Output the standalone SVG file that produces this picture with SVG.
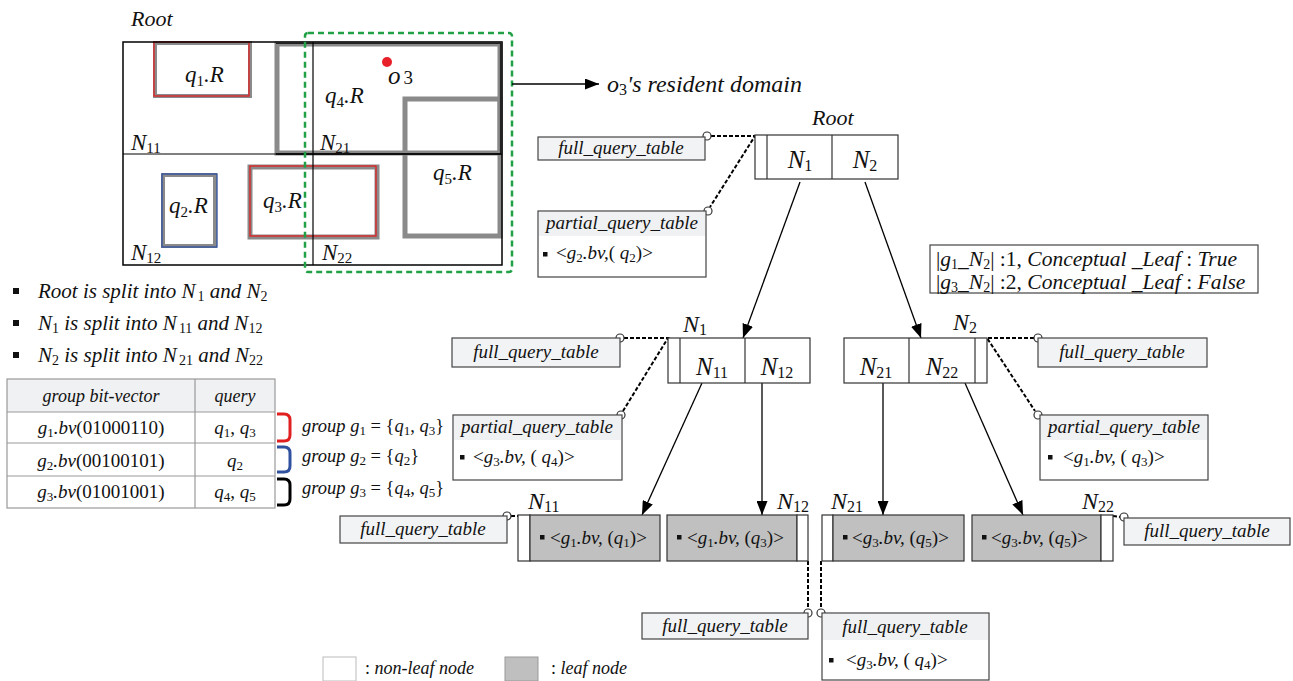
<svg xmlns="http://www.w3.org/2000/svg" width="1293" height="681" viewBox="0 0 1293 681" font-family="'Liberation Serif', 'DejaVu Serif', serif">
<defs>
<marker id="ah" markerUnits="userSpaceOnUse" markerWidth="15" markerHeight="11" refX="14" refY="5.5" orient="auto"><path d="M0,0 L14,5.5 L0,11 z" fill="#000"/></marker>
<style>
.t{font-family:'Liberation Serif','DejaVu Serif',serif;font-style:italic;fill:#111}
.nm{font-style:normal}
.g{fill:none;stroke:#8a8a8a}
.ftab{fill:#f2f3f5;stroke:#444;stroke-width:1.2}
.ptab{fill:#fff;stroke:#444;stroke-width:1.2}
.phead{fill:#f0f1f3;stroke:none}
.leaf{fill:#c0c0c0;stroke:#333;stroke-width:1.2}
.wh{fill:#fff;stroke:#333;stroke-width:1.2}
.node{fill:#fff;stroke:#333;stroke-width:1.2}
.dl{stroke:#000;stroke-width:2;stroke-dasharray:4 2;fill:none}
.el{stroke:#000;stroke-width:1.3;fill:none}
.pin{fill:#fff;stroke:#333;stroke-width:1.2}
.bul{fill:#111}
</style>
</defs>

<!-- Spatial diagram -->
<g id="space">
<rect class="g" x="155" y="43" width="95" height="53" stroke-width="4"/>
<rect x="154" y="42" width="95" height="54" fill="none" stroke="#e02020" stroke-width="1.3"/>
<rect class="g" x="277" y="44" width="223" height="109" stroke-width="5"/>
<rect class="g" x="405" y="99" width="95" height="137" stroke-width="5"/>
<rect class="g" x="163" y="175" width="52" height="71" stroke-width="4"/>
<rect x="162" y="174" width="55" height="73" fill="none" stroke="#3050a0" stroke-width="1.3"/>
<rect class="g" x="250" y="167" width="127" height="70" stroke-width="5"/>
<rect x="250" y="166" width="126" height="70" fill="none" stroke="#e02020" stroke-width="1.3"/>
<rect x="123" y="42" width="379" height="223" fill="none" stroke="#000" stroke-width="1.5"/>
<path d="M276,43 H501 V154 H276" fill="none" stroke="#222" stroke-width="2.2"/>
<line x1="123" y1="154" x2="502" y2="154" stroke="#000" stroke-width="1.2"/>
<line x1="313" y1="42" x2="313" y2="265" stroke="#000" stroke-width="1.2"/>
<rect x="305" y="33" width="207" height="239" rx="3" fill="none" stroke="#22a046" stroke-width="2.5" stroke-dasharray="6 4"/>
<circle cx="387" cy="62" r="5" fill="#e8202a"/>
<text class="t" x="131" y="26" font-size="22">Root</text>
<text class="t" x="185" y="82" font-size="23">q<tspan font-size="15" dy="4" class="nm">1</tspan><tspan dy="-4">.R</tspan></text>
<text class="t" x="388" y="84" font-size="25">o<tspan font-size="19" dx="3" class="nm">3</tspan></text>
<text class="t" x="325" y="103" font-size="23">q<tspan font-size="15" dy="4" class="nm">4</tspan><tspan dy="-4">.R</tspan></text>
<text class="t" x="131" y="150" font-size="23">N<tspan font-size="15" dy="3" class="nm">11</tspan></text>
<text class="t" x="320" y="150" font-size="23">N<tspan font-size="15" dy="3" class="nm">21</tspan></text>
<text class="t" x="433" y="180" font-size="23">q<tspan font-size="15" dy="4" class="nm">5</tspan><tspan dy="-4">.R</tspan></text>
<text class="t" x="263" y="208" font-size="23">q<tspan font-size="15" dy="4" class="nm">3</tspan><tspan dy="-4">.R</tspan></text>
<text class="t" x="169" y="213" font-size="23">q<tspan font-size="15" dy="4" class="nm">2</tspan><tspan dy="-4">.R</tspan></text>
<text class="t" x="131" y="260" font-size="23">N<tspan font-size="15" dy="3" class="nm">12</tspan></text>
<text class="t" x="322" y="260" font-size="23">N<tspan font-size="15" dy="3" class="nm">22</tspan></text>
<text class="t" x="607" y="92" font-size="24">o<tspan font-size="16" dy="3" class="nm">3</tspan><tspan dy="-3">'s resident domain</tspan></text>
</g>

<!-- Left list and table -->
<g id="list">
<rect class="bul" x="13" y="288" width="6" height="6"/>
<rect class="bul" x="13" y="320" width="6" height="6"/>
<rect class="bul" x="13" y="352" width="6" height="6"/>
<text class="t" x="38" y="298" font-size="21">Root is split into N<tspan font-size="14" dx="2" dy="3" class="nm">1</tspan><tspan dy="-3"> and N</tspan><tspan font-size="14" dy="3" class="nm">2</tspan></text>
<text class="t" x="38" y="330" font-size="21">N<tspan font-size="14" dy="3" class="nm">1</tspan><tspan dy="-3"> is split into N</tspan><tspan font-size="14" dx="2" dy="3" class="nm">11</tspan><tspan dy="-3"> and N</tspan><tspan font-size="14" dy="3" class="nm">12</tspan></text>
<text class="t" x="38" y="362" font-size="21">N<tspan font-size="14" dy="3" class="nm">2</tspan><tspan dy="-3"> is split into N</tspan><tspan font-size="14" dx="2" dy="3" class="nm">21</tspan><tspan dy="-3"> and N</tspan><tspan font-size="14" dy="3" class="nm">22</tspan></text>
</g>
<g id="bvtable">
<rect x="7" y="379" width="268" height="33" fill="#f0f1f3"/>
<rect x="7" y="379" width="268" height="129" fill="none" stroke="#999" stroke-width="1.2"/>
<line x1="7" y1="412" x2="275" y2="412" stroke="#999" stroke-width="1.2"/>
<line x1="7" y1="443" x2="275" y2="443" stroke="#999" stroke-width="1.2"/>
<line x1="7" y1="476" x2="275" y2="476" stroke="#999" stroke-width="1.2"/>
<line x1="195" y1="379" x2="195" y2="508" stroke="#999" stroke-width="1.2"/>
<text class="t" x="101" y="402" font-size="18" text-anchor="middle">group bit-vector</text>
<text class="t" x="235" y="402" font-size="18" text-anchor="middle">query</text>
<text class="t" x="101" y="434" font-size="19" text-anchor="middle">g<tspan font-size="13" dy="3" class="nm">1</tspan><tspan dy="-3">.bv</tspan><tspan class="nm">(01000110)</tspan></text>
<text class="t" x="101" y="467" font-size="19" text-anchor="middle">g<tspan font-size="13" dy="3" class="nm">2</tspan><tspan dy="-3">.bv</tspan><tspan class="nm">(00100101)</tspan></text>
<text class="t" x="101" y="498" font-size="19" text-anchor="middle">g<tspan font-size="13" dy="3" class="nm">3</tspan><tspan dy="-3">.bv</tspan><tspan class="nm">(01001001)</tspan></text>
<text class="t" x="235" y="434" font-size="19" text-anchor="middle">q<tspan font-size="13" dy="3" class="nm">1</tspan><tspan dy="-3" class="nm">, </tspan><tspan>q</tspan><tspan font-size="13" dy="3" class="nm">3</tspan></text>
<text class="t" x="235" y="467" font-size="19" text-anchor="middle">q<tspan font-size="13" dy="3" class="nm">2</tspan></text>
<text class="t" x="235" y="498" font-size="19" text-anchor="middle">q<tspan font-size="13" dy="3" class="nm">4</tspan><tspan dy="-3" class="nm">, </tspan><tspan>q</tspan><tspan font-size="13" dy="3" class="nm">5</tspan></text>
</g>
<g id="groups">
<path d="M277,414 H284 Q290,414 290,420 V435 Q290,441 284,441 H277" fill="none" stroke="#e02020" stroke-width="3"/>
<path d="M277,447 H284 Q290,447 290,453 V466 Q290,472 284,472 H277" fill="none" stroke="#3050a0" stroke-width="3"/>
<path d="M277,479 H284 Q290,479 290,485 V499 Q290,505 284,505 H277" fill="none" stroke="#000" stroke-width="3"/>
<text class="t" x="302" y="432" font-size="18.5">group g<tspan font-size="13" dy="3" class="nm">1</tspan><tspan dy="-3" class="nm"> = {</tspan><tspan>q</tspan><tspan font-size="13" dy="3" class="nm">1</tspan><tspan dy="-3" class="nm">, </tspan><tspan>q</tspan><tspan font-size="13" dy="3" class="nm">3</tspan><tspan dy="-3" class="nm">}</tspan></text>
<text class="t" x="302" y="462" font-size="18.5">group g<tspan font-size="13" dy="3" class="nm">2</tspan><tspan dy="-3" class="nm"> = {</tspan><tspan>q</tspan><tspan font-size="13" dy="3" class="nm">2</tspan><tspan dy="-3" class="nm">}</tspan></text>
<text class="t" x="302" y="494" font-size="18.5">group g<tspan font-size="13" dy="3" class="nm">3</tspan><tspan dy="-3" class="nm"> = {</tspan><tspan>q</tspan><tspan font-size="13" dy="3" class="nm">4</tspan><tspan dy="-3" class="nm">, </tspan><tspan>q</tspan><tspan font-size="13" dy="3" class="nm">5</tspan><tspan dy="-3" class="nm">}</tspan></text>
</g>

<!-- Connectors -->
<g id="connectors">
<line class="el" x1="512" y1="84" x2="599" y2="84" marker-end="url(#ah)"/>
<line class="el" x1="800" y1="182" x2="743" y2="338" marker-end="url(#ah)"/>
<line class="el" x1="865" y1="182" x2="921" y2="338" marker-end="url(#ah)"/>
<line class="el" x1="702" y1="383" x2="642" y2="515" marker-end="url(#ah)"/>
<line class="el" x1="762" y1="383" x2="762" y2="515" marker-end="url(#ah)"/>
<line class="el" x1="883" y1="383" x2="883" y2="515" marker-end="url(#ah)"/>
<line class="el" x1="965" y1="383" x2="1023" y2="515" marker-end="url(#ah)"/>
<path class="dl" d="M711,136 H755 L710,207"/>
<path class="dl" d="M624,338 H668 L623,411"/>
<path class="dl" d="M1034,338 H987 L1035,411"/>
<path class="dl" d="M511,516 H518"/>
<path class="dl" d="M1113,516 L1120,517"/>
<path class="dl" d="M808,561 V609"/>
<path class="dl" d="M821,561 V609"/>
<circle class="pin" cx="707" cy="136" r="4"/>
<circle class="pin" cx="708" cy="211" r="4"/>
<circle class="pin" cx="620" cy="338" r="4"/>
<circle class="pin" cx="621" cy="415" r="4"/>
<circle class="pin" cx="1038" cy="338" r="4"/>
<circle class="pin" cx="1038" cy="415" r="4"/>
<circle class="pin" cx="507" cy="516" r="4"/>
<circle class="pin" cx="1124" cy="517" r="4"/>
<circle class="pin" cx="808" cy="613" r="4"/>
<circle class="pin" cx="821" cy="613" r="4"/>
</g>

<!-- Root node -->
<g id="root-node">
<rect class="node" x="755" y="135" width="143" height="44"/>
<line x1="767" y1="135" x2="767" y2="179" stroke="#333" stroke-width="1.2"/>
<line x1="832" y1="135" x2="832" y2="179" stroke="#333" stroke-width="1.2"/>
<text class="t" x="812" y="125" font-size="22">Root</text>
<text class="t" x="800" y="168" font-size="25" text-anchor="middle">N<tspan font-size="16" dy="3" class="nm">1</tspan></text>
<text class="t" x="865" y="168" font-size="25" text-anchor="middle">N<tspan font-size="16" dy="3" class="nm">2</tspan></text>
</g>
<g id="root-full">
<rect class="ftab" x="538" y="137" width="167" height="23"/>
<text class="t" x="621" y="154" font-size="19" text-anchor="middle">full_query_table</text>
</g>
<g id="root-partial">
<rect class="ptab" x="538" y="211" width="168" height="66"/>
<rect class="phead" x="539" y="212" width="166" height="24"/>
<text class="t" x="622" y="229" font-size="19" text-anchor="middle">partial_query_table</text>
<rect class="bul" x="543" y="252" width="4.5" height="4.5"/>
<text class="t" x="556" y="259" font-size="19"><tspan class="nm">&lt;</tspan>g<tspan font-size="13" dy="3" class="nm">2</tspan><tspan dy="-3">.bv,</tspan><tspan class="nm">( </tspan>q<tspan font-size="13" dy="3" class="nm">2</tspan><tspan dy="-3" class="nm">)&gt;</tspan></text>
</g>

<g id="conceptual">
<rect x="930" y="245" width="328" height="48" fill="#fff" stroke="#444" stroke-width="1.2"/>
<text class="t" x="936" y="266" font-size="21.5"><tspan class="nm">|</tspan>g<tspan font-size="14" dy="3" class="nm">1</tspan><tspan dy="-3">_N</tspan><tspan font-size="14" dy="3" class="nm">2</tspan><tspan dy="-3" class="nm">| :1,  </tspan><tspan>Conceptual _Leaf </tspan><tspan class="nm">: </tspan><tspan>True</tspan></text>
<text class="t" x="936" y="289" font-size="21.5"><tspan class="nm">|</tspan>g<tspan font-size="14" dy="3" class="nm">3</tspan><tspan dy="-3">_N</tspan><tspan font-size="14" dy="3" class="nm">2</tspan><tspan dy="-3" class="nm">| :2,  </tspan><tspan>Conceptual _Leaf </tspan><tspan class="nm">: </tspan><tspan>False</tspan></text>
</g>

<!-- N1 node -->
<g id="n1-node">
<rect class="node" x="668" y="338" width="142" height="45"/>
<line x1="680" y1="338" x2="680" y2="383" stroke="#333" stroke-width="1.2"/>
<line x1="745" y1="338" x2="745" y2="383" stroke="#333" stroke-width="1.2"/>
<text class="t" x="683" y="332" font-size="24">N<tspan font-size="16" dy="3" class="nm">1</tspan></text>
<text class="t" x="712" y="375" font-size="25" text-anchor="middle">N<tspan font-size="16" dy="3" class="nm">11</tspan></text>
<text class="t" x="777" y="375" font-size="25" text-anchor="middle">N<tspan font-size="16" dy="3" class="nm">12</tspan></text>
</g>
<g id="n1-full">
<rect class="ftab" x="452" y="338" width="168" height="29"/>
<text class="t" x="536" y="358" font-size="19" text-anchor="middle">full_query_table</text>
</g>
<g id="n1-partial">
<rect class="ptab" x="453" y="415" width="169" height="65"/>
<rect class="phead" x="454" y="416" width="167" height="24"/>
<text class="t" x="537" y="433" font-size="19" text-anchor="middle">partial_query_table</text>
<rect class="bul" x="460" y="455" width="4.5" height="4.5"/>
<text class="t" x="473" y="463" font-size="19"><tspan class="nm">&lt;</tspan>g<tspan font-size="13" dy="3" class="nm">3</tspan><tspan dy="-3">.bv,</tspan><tspan class="nm"> ( </tspan>q<tspan font-size="13" dy="3" class="nm">4</tspan><tspan dy="-3" class="nm">)&gt;</tspan></text>
</g>

<!-- N2 node -->
<g id="n2-node">
<rect class="node" x="844" y="338" width="143" height="45"/>
<line x1="909" y1="338" x2="909" y2="383" stroke="#333" stroke-width="1.2"/>
<line x1="975" y1="338" x2="975" y2="383" stroke="#333" stroke-width="1.2"/>
<text class="t" x="953" y="330" font-size="24">N<tspan font-size="16" dy="3" class="nm">2</tspan></text>
<text class="t" x="876" y="375" font-size="25" text-anchor="middle">N<tspan font-size="16" dy="3" class="nm">21</tspan></text>
<text class="t" x="942" y="375" font-size="25" text-anchor="middle">N<tspan font-size="16" dy="3" class="nm">22</tspan></text>
</g>
<g id="n2-full">
<rect class="ftab" x="1038" y="338" width="169" height="29"/>
<text class="t" x="1122" y="358" font-size="19" text-anchor="middle">full_query_table</text>
</g>
<g id="n2-partial">
<rect class="ptab" x="1040" y="415" width="168" height="65"/>
<rect class="phead" x="1041" y="416" width="166" height="24"/>
<text class="t" x="1124" y="433" font-size="19" text-anchor="middle">partial_query_table</text>
<rect class="bul" x="1048" y="455" width="4.5" height="4.5"/>
<text class="t" x="1063" y="463" font-size="19"><tspan class="nm">&lt;</tspan>g<tspan font-size="13" dy="3" class="nm">1</tspan><tspan dy="-3">.bv,</tspan><tspan class="nm"> ( </tspan>q<tspan font-size="13" dy="3" class="nm">3</tspan><tspan dy="-3" class="nm">)&gt;</tspan></text>
</g>

<!-- Leaves -->
<g id="leaf-n11">
<rect class="wh" x="518" y="515" width="12" height="46"/>
<rect class="leaf" x="530" y="515" width="130" height="46"/>
<text class="t" x="528" y="509" font-size="24">N<tspan font-size="16" dy="3" class="nm">11</tspan></text>
<rect class="bul" x="540" y="535" width="4.5" height="4.5"/>
<text class="t" x="550" y="544" font-size="19"><tspan class="nm">&lt;</tspan>g<tspan font-size="13" dy="3" class="nm">1</tspan><tspan dy="-3">.bv,</tspan><tspan class="nm"> (</tspan>q<tspan font-size="13" dy="3" class="nm">1</tspan><tspan dy="-3" class="nm">)&gt;</tspan></text>
</g>
<g id="leaf-n11-full">
<rect class="ftab" x="340" y="516" width="167" height="27"/>
<text class="t" x="423" y="535" font-size="19" text-anchor="middle">full_query_table</text>
</g>
<g id="leaf-n12">
<rect class="leaf" x="667" y="515" width="130" height="46"/>
<rect class="wh" x="797" y="515" width="11" height="46"/>
<text class="t" x="777" y="509" font-size="24">N<tspan font-size="16" dy="3" class="nm">12</tspan></text>
<rect class="bul" x="677" y="535" width="4.5" height="4.5"/>
<text class="t" x="687" y="544" font-size="19"><tspan class="nm">&lt;</tspan>g<tspan font-size="13" dy="3" class="nm">1</tspan><tspan dy="-3">.bv,</tspan><tspan class="nm"> (</tspan>q<tspan font-size="13" dy="3" class="nm">3</tspan><tspan dy="-3" class="nm">)&gt;</tspan></text>
</g>
<g id="leaf-n21">
<rect class="wh" x="822" y="515" width="11" height="46"/>
<rect class="leaf" x="833" y="515" width="131" height="46"/>
<text class="t" x="831" y="509" font-size="24">N<tspan font-size="16" dy="3" class="nm">21</tspan></text>
<rect class="bul" x="843" y="535" width="4.5" height="4.5"/>
<text class="t" x="852" y="544" font-size="19"><tspan class="nm">&lt;</tspan>g<tspan font-size="13" dy="3" class="nm">3</tspan><tspan dy="-3">.bv,</tspan><tspan class="nm"> (</tspan>q<tspan font-size="13" dy="3" class="nm">5</tspan><tspan dy="-3" class="nm">)&gt;</tspan></text>
</g>
<g id="leaf-n22">
<rect class="leaf" x="972" y="515" width="129" height="46"/>
<rect class="wh" x="1101" y="515" width="12" height="46"/>
<text class="t" x="1082" y="509" font-size="24">N<tspan font-size="16" dy="3" class="nm">22</tspan></text>
<rect class="bul" x="982" y="535" width="4.5" height="4.5"/>
<text class="t" x="991" y="544" font-size="19"><tspan class="nm">&lt;</tspan>g<tspan font-size="13" dy="3" class="nm">3</tspan><tspan dy="-3">.bv,</tspan><tspan class="nm"> (</tspan>q<tspan font-size="13" dy="3" class="nm">5</tspan><tspan dy="-3" class="nm">)&gt;</tspan></text>
</g>
<g id="leaf-n22-full">
<rect class="ftab" x="1124" y="518" width="166" height="27"/>
<text class="t" x="1207" y="537" font-size="19" text-anchor="middle">full_query_table</text>
</g>

<!-- Bottom tables -->
<g id="n12-full">
<rect class="ftab" x="642" y="613" width="166" height="26"/>
<text class="t" x="725" y="632" font-size="19" text-anchor="middle">full_query_table</text>
</g>
<g id="n21-full">
<rect class="ptab" x="822" y="613" width="167" height="67"/>
<rect class="phead" x="823" y="614" width="165" height="26"/>
<text class="t" x="905" y="633" font-size="19" text-anchor="middle">full_query_table</text>
<rect class="bul" x="829" y="658" width="4.5" height="4.5"/>
<text class="t" x="846" y="666" font-size="19"><tspan class="nm">&lt;</tspan>g<tspan font-size="13" dy="3" class="nm">3</tspan><tspan dy="-3">.bv,</tspan><tspan class="nm"> ( </tspan>q<tspan font-size="13" dy="3" class="nm">4</tspan><tspan dy="-3" class="nm">)&gt;</tspan></text>
</g>

<!-- Legend -->
<g id="legend">
<rect x="323" y="657" width="33" height="24" fill="#fff" stroke="#bbb" stroke-width="1"/>
<text class="t" x="365" y="674" font-size="18"><tspan class="nm">: </tspan>non-leaf node</text>
<rect x="505" y="657" width="33" height="24" fill="#bfbfbf" stroke="#999" stroke-width="1"/>
<text class="t" x="551" y="674" font-size="18"><tspan class="nm">: </tspan>leaf node</text>
</g>
</svg>
